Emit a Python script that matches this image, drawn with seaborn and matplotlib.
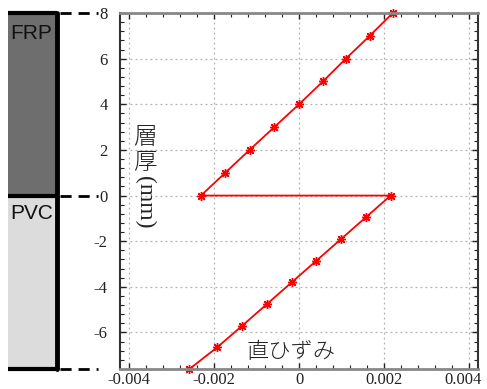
import numpy as np
import pandas as pd
import matplotlib
matplotlib.use("Agg")
import matplotlib.pyplot as plt
import matplotlib.transforms as mtransforms
import seaborn as sns

# ---- data ----
layers = ["FRP", "PVC"]
layer_bottom = [0.0, -7.6]
layer_height = [8.0, 7.6]
layer_colors = ["#6e6e6e", "#dcdcdc"]

# strain profile (path order: top -> interface -> jump -> bottom)
strain = [0.0022, 0.00166, 0.0011, 0.00056, 0.0, -0.00058, -0.00116, -0.00173, -0.0023,
          0.00215, 0.00157, 0.00099, 0.00041, -0.00017, -0.00075, -0.00133, -0.00192, -0.00257]
depth = [8, 7, 6, 5, 4, 3, 2, 1, 0,
         0, -0.95, -1.9, -2.85, -3.8, -4.75, -5.7, -6.65, -7.6]

xticks = [-0.004, -0.002, 0, 0.002, 0.004]
xticklabels = ["-0.004", "-0.002", "0", "0.002", "0.004"]
yticks = [-6, -4, -2, 0, 2, 4, 6, 8]
yticklabels = ["-6", "-4", "-2", "0", "2", "4", "6", "8"]

sns.set_theme(style="white")
plt.rcParams["font.family"] = ["Liberation Serif", "DejaVu Serif"]
plt.rcParams["axes.unicode_minus"] = False

W, H = 487, 389
fig = plt.figure(figsize=(W / 100, H / 100), dpi=100)

ybot, ytop = -7.6, 8.0
ax_b = 1 - 369 / H
ax_h = (369 - 13) / H

# ---- main axes ----
ax = fig.add_axes([120 / W, ax_b, (478 - 120) / W, ax_h])
df = pd.DataFrame({"strain": strain, "depth": depth})
sns.lineplot(data=df, x="strain", y="depth", sort=False, estimator=None,
             color="#ff0000", lw=1.3, marker=(8, 2, 0), markersize=6.5,
             markeredgewidth=1.0, markeredgecolor="#ff0000", ax=ax, clip_on=False)

ax.set_xlim(-0.0042, 0.0042)
ax.set_ylim(ybot, ytop)
ax.set_xticks(xticks)
ax.set_xticklabels(xticklabels)
ax.set_yticks(yticks)
ax.set_yticklabels(yticklabels)
ax.set_xticks(np.arange(-0.0040, 0.00401, 0.0004), minor=True)
ax.set_yticks(np.arange(-7.6, 8.01, 0.4), minor=True)
ax.tick_params(axis="both", which="both", direction="in", top=True, right=True,
               bottom=True, left=True, labelsize=12, colors="#222222")
ax.tick_params(which="major", length=4, width=1)
ax.tick_params(which="minor", length=3, width=0.8)
ax.tick_params(axis="y", pad=9)
ax.tick_params(axis="x", pad=2)
ax.grid(True, which="major", linestyle=(0, (1.5, 2.5)), color="#b0b0b0", lw=0.9)
ax.set_xlabel("")
ax.set_ylabel("")
for s in ["top", "bottom"]:
    ax.spines[s].set_color("#888888")
    ax.spines[s].set_linewidth(2)
for s in ["left", "right"]:
    ax.spines[s].set_color("#333333")
    ax.spines[s].set_linewidth(1.5)

# nudge the last x tick label left so it stays inside the figure
lbl = ax.get_xticklabels()[-1]
lbl.set_transform(lbl.get_transform() + mtransforms.ScaledTranslation(-6 / 100, 0, fig.dpi_scale_trans))

cjk = ["Noto Sans CJK JP", "DejaVu Sans"]
fig.text(145 / W, 1 - 150 / H, "層\n厚", fontsize=17, family=cjk,
         ha="center", va="center", linespacing=0.95, fontweight="light", color="#222222")
fig.text(145 / W, 1 - 202 / H, "(mm)", fontsize=17, family=["Liberation Serif"],
         rotation=-90, ha="center", va="center", color="#222222")
fig.text(291 / W, 1 - 352 / H, "直ひずみ", fontsize=16, family=cjk,
         ha="center", va="center", fontweight="light", color="#222222")

# ---- layer diagram ----
ax2 = fig.add_axes([0, ax_b, 100 / W, ax_h])
ax2.set_xlim(0, 100)
ax2.set_ylim(ybot, ytop)
ax2.axis("off")
ax2.bar([32.5, 32.5], layer_height, bottom=layer_bottom, width=49,
        color=layer_colors, edgecolor="none")
for yv in [ytop, 0.0, ybot]:
    ax2.plot([8, 57], [yv, yv], color="black", lw=3, solid_capstyle="butt", clip_on=False)
    ax2.plot([60, 98], [yv, yv], color="black", lw=2, linestyle=(0, (4, 2.5)), clip_on=False)
ax2.plot([57, 57], [ybot, ytop], color="black", lw=3.5, clip_on=False)
sansf = ["Liberation Sans", "DejaVu Sans"]
ax2.text(10, 7.5, layers[0], fontsize=15, family=sansf, ha="left", va="top", color="#111111")
ax2.text(10, -0.35, layers[1], fontsize=15, family=sansf, ha="left", va="top", color="#111111")

fig.savefig("out.png", dpi=100)
